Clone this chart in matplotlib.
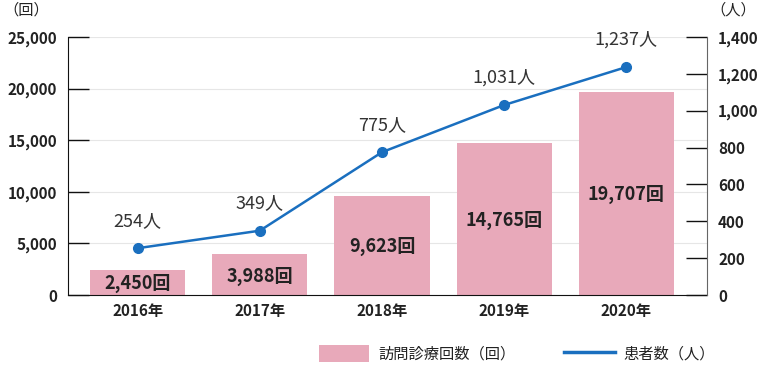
import matplotlib.pyplot as plt
from matplotlib.lines import Line2D
import numpy as np

plt.rcParams['font.family'] = ['Noto Sans CJK JP', 'DejaVu Sans']

years = ['2016年', '2017年', '2018年', '2019年', '2020年']
visits = [2450, 3988, 9623, 14765, 19707]
patients = [254, 349, 775, 1031, 1237]

bar_color = '#e8a9ba'
line_color = '#1a6fbf'
text_color = '#222222'

fig = plt.figure(figsize=(7.59, 3.65), dpi=100)
ax = fig.add_axes([68 / 759, 1 - 295 / 365, (707 - 68) / 759, (295 - 37) / 365])
ax2 = ax.twinx()

x = np.arange(len(years))
ax.bar(x, visits, width=0.78, color=bar_color, zorder=2, label='訪問診療回数（回）')
for xi, v in zip(x, visits):
    ax.text(xi, v / 2 - 150, f'{v:,}回', ha='center', va='center',
            fontsize=13, fontweight='bold', color=text_color, zorder=3)

ax.set_ylim(0, 25000)
ax.set_yticks(range(0, 25001, 5000))
ax.set_yticklabels([f'{v:,}' for v in range(0, 25001, 5000)])
ax.set_xlim(-0.57, 4.66)
ax.set_xticks(x)
ax.set_xticklabels(years)
ax.grid(axis='y', color='#e6e6e6', linewidth=0.8, zorder=0)
ax.set_axisbelow(True)

ax2.plot(x, patients, color=line_color, linewidth=1.8, marker='o', markersize=7,
         zorder=4, label='患者数（人）')
for xi, p in zip(x, patients):
    ax2.text(xi, p + 100, f'{p:,}人', ha='center', va='bottom', fontsize=13,
             color='#333333')
ax2.set_ylim(0, 1400)
ax2.set_yticks(range(0, 1401, 200))
ax2.set_yticklabels([f'{v:,}' for v in range(0, 1401, 200)])

for a in (ax, ax2):
    a.spines['top'].set_visible(False)
ax.spines['right'].set_visible(False)
ax2.spines['left'].set_visible(False)
ax2.spines['bottom'].set_visible(False)
ax.spines['left'].set_color('#111111')
ax.spines['bottom'].set_color('#111111')
ax2.spines['right'].set_color('#666666')

ax.tick_params(axis='y', direction='in', length=15, width=1, color='#111111', pad=8,
               labelsize=11, labelcolor=text_color)
ax.tick_params(axis='x', length=0, pad=6, labelsize=11, labelcolor=text_color)
ax2.tick_params(axis='y', direction='in', length=15, width=1, color='#111111', pad=8,
                labelsize=11, labelcolor=text_color)
for lbl in ax.get_yticklabels() + ax.get_xticklabels() + ax2.get_yticklabels():
    lbl.set_fontweight('bold')

fig.text(26 / 759, 1 - 10 / 365, '（回）', ha='center', va='center', fontsize=11,
         color=text_color)
fig.text(733 / 759, 1 - 10 / 365, '（人）', ha='center', va='center', fontsize=11,
         color=text_color)

h1, l1 = ax.get_legend_handles_labels()
h2 = [Line2D([0], [0], color=line_color, linewidth=2.5)]
l2 = ['患者数（人）']
fig.legend(h1 + h2, l1 + l2, loc='center', bbox_to_anchor=(517 / 759, 1 - 354 / 365),
           ncol=2, frameon=False, fontsize=11, handlelength=3.3, handleheight=1.3,
           columnspacing=3.2, handletextpad=0.6, labelcolor=text_color)

fig.savefig('out.png', dpi=100)
